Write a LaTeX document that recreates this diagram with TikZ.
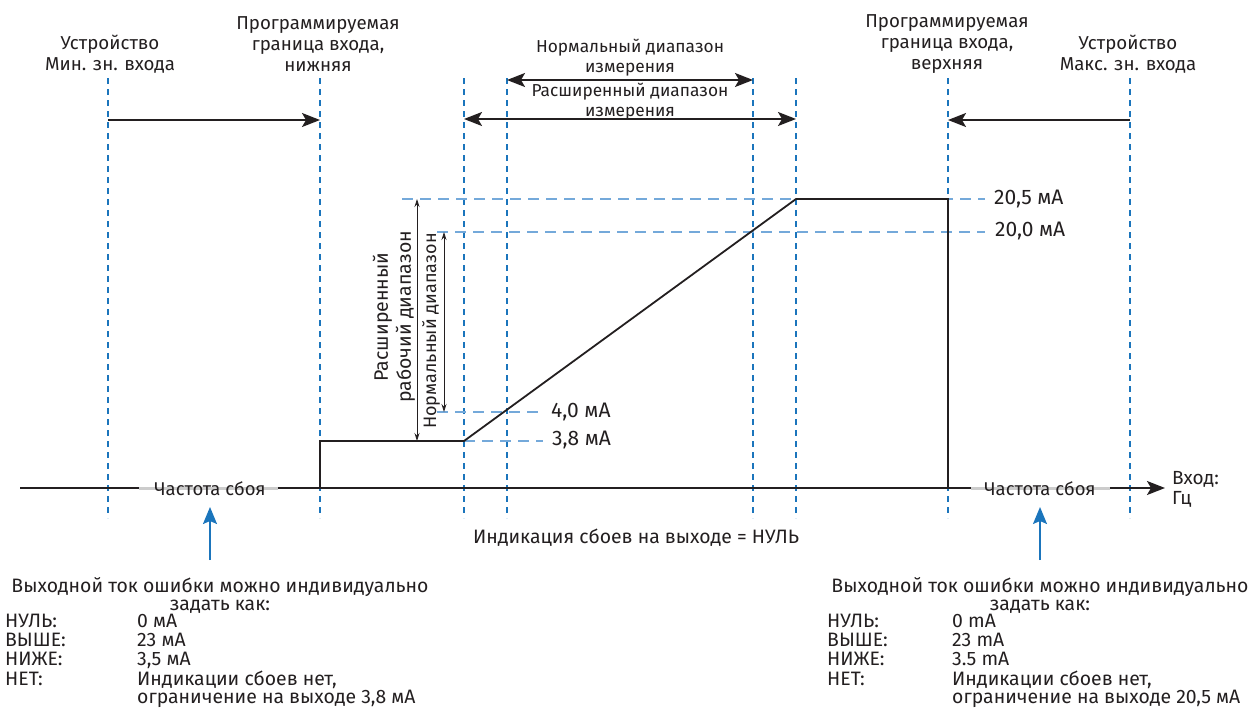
\documentclass[tikz,border=0pt]{standalone}
\usepackage{fontspec}
\setmainfont{Fira Sans}
\usetikzlibrary{arrows.meta}

\definecolor{guideblue}{HTML}{1B75BC}
\definecolor{levelblue}{HTML}{74A9DA}
\definecolor{faultgray}{HTML}{CCCCCC}
\definecolor{inkblack}{HTML}{231F20}

\tikzset{
  guideline/.style={guideblue, line width=1.3pt, dash pattern=on 6pt off 5pt},
  levelline/.style={levelblue, line width=1.6pt, dash pattern=on 11pt off 7pt},
  signal/.style={inkblack, line width=1.8pt},
  rangearrow/.style={inkblack, line width=1.8pt, -{Stealth[length=18pt,width=14pt,inset=4pt]}},
  bothrange/.style={inkblack, line width=1.8pt, {Stealth[length=18pt,width=14pt,inset=4pt]}-{Stealth[length=18pt,width=14pt,inset=4pt]}},
  thinrange/.style={inkblack, line width=0.8pt, {Stealth[length=8pt,width=5pt]}-{Stealth[length=8pt,width=5pt]}},
  pointer/.style={guideblue, line width=1.6pt, -{Stealth[length=17pt,width=14pt,inset=3pt]}},
  toplabel/.style={font=\fontsize{18.7}{21}\selectfont, align=center, inner sep=0pt, inkblack},
  midlabel/.style={font=\fontsize{17.3}{20}\selectfont, align=center, inner sep=0pt, inkblack},
  txt/.style={font=\fontsize{19.4}{18}\selectfont, inner sep=0pt, inkblack},
  valtxt/.style={font=\fontsize{21}{22}\selectfont, inner sep=0pt, inkblack},
}

\begin{document}
\begin{tikzpicture}[x=1pt, y=-1pt]
  \useasboundingbox (0,0) rectangle (1253,718);

  %%% vertical guides
  \foreach \x in {108,320,464,507,753,796,948,1130}
    \draw[guideline] (\x,78) -- (\x,518);

  %%% current levels
  \coordinate (lvlA) at (402,199);  \coordinate (lvlAend) at (985,199);
  \coordinate (lvlB) at (437,232);  \coordinate (lvlBend) at (985,232);
  \coordinate (lvlC) at (437,412);  \coordinate (lvlCend) at (543,412);
  \coordinate (lvlD) at (464,441);  \coordinate (lvlDend) at (543,441);
  \draw[levelline] (lvlA) -- (lvlAend);
  \draw[levelline] (lvlB) -- (lvlBend);
  \draw[levelline] (lvlC) -- (lvlCend);
  \draw[levelline] (lvlD) -- (lvlDend);

  \node[valtxt, anchor=west] (l205) at (994,199) {20,5 мА};
  \node[valtxt, anchor=west] (l200) at (995,231) {20,0 мА};
  \node[valtxt, anchor=west] (l40) at (551,412) {4,0 мА};
  \node[valtxt, anchor=west] (l38) at (552,440) {3,8 мА};

  %%% input axis
  \coordinate (ax0) at (20,488);
  \coordinate (ax1) at (139,488);
  \coordinate (ax2) at (278,488);
  \coordinate (ax3) at (971,488);
  \coordinate (ax4) at (1110,488);
  \coordinate (ax5) at (1165,488);
  \draw[signal] (ax0) -- (ax1);
  \draw[faultgray, line width=3pt] (ax1) -- (ax2);
  \draw[signal] (ax2) -- (ax3);
  \draw[faultgray, line width=3pt] (ax3) -- (ax4);
  \draw[rangearrow] (ax4) -- (ax5);
  \node[txt, font=\fontsize{18.5}{18}\selectfont] (failL) at (210,489) {Частота сбоя};
  \node[txt, font=\fontsize{18.5}{18}\selectfont] (failR) at (1040,489) {Частота сбоя};
  \node[txt, align=left, anchor=west, font=\fontsize{19}{20}\selectfont] (input) at (1172,489) {Вход:\\Гц};

  %%% output signal
  \coordinate (s0) at (320,488);
  \coordinate (s1) at (320,441);
  \coordinate (s2) at (464,441);
  \coordinate (s3) at (796,199);
  \coordinate (s4) at (948,199);
  \coordinate (s5) at (948,488);
  \draw[signal, line join=miter] (s0) -- (s1) -- (s2) -- (s3) -- (s4) -- (s5);

  %%% ranges on the current axis
  \coordinate (extTop) at (417,199);  \coordinate (extBot) at (417,441);
  \coordinate (nrmTop) at (444,232);  \coordinate (nrmBot) at (444,412);
  \draw[thinrange] (extTop) -- (extBot);
  \draw[thinrange] (nrmTop) -- (nrmBot);
  \node[toplabel, rotate=90, font=\fontsize{19.5}{23}\selectfont] (extLbl) at (394,317) {Расширенный\\рабочий диапазон};
  \node[txt, rotate=90, font=\fontsize{18}{18}\selectfont] (nrmLbl) at (431,331) {Нормальный диапазон};

  %%% ranges on the input axis
  \coordinate (minDev) at (108,120);  \coordinate (minProg) at (320,120);
  \coordinate (maxDev) at (1130,120); \coordinate (maxProg) at (948,120);
  \draw[rangearrow] (minDev) -- (minProg);
  \draw[rangearrow] (maxDev) -- (maxProg);
  \coordinate (nrmL) at (507,80);  \coordinate (nrmR) at (753,80);
  \coordinate (extL) at (464,119); \coordinate (extR) at (796,119);
  \draw[bothrange] (nrmL) -- (nrmR);
  \draw[bothrange] (extL) -- (extR);
  \node[midlabel] (nrmIn) at (630,58) {Нормальный диапазон\\измерения};
  \node[midlabel] (extIn) at (630,102) {Расширенный диапазон\\измерения};

  %%% top labels
  \node[toplabel] (devMin) at (110,54) {Устройство\\Мин. зн. входа};
  \node[toplabel] (progLo) at (318,44) {Программируемая\\граница входа,\\нижняя};
  \node[toplabel] (progHi) at (947,44) {Программируемая\\граница входа,\\верхняя};
  \node[toplabel] (devMax) at (1128,54) {Устройство\\Макс. зн. входа};

  \node[txt] (nullOut) at (636,538) {Индикация сбоев на выходе = НУЛЬ};

  %%% failure current settings
  \coordinate (pL) at (210,560); \coordinate (pLtip) at (210,507);
  \coordinate (pR) at (1040,560); \coordinate (pRtip) at (1040,507);
  \draw[pointer] (pL) -- (pLtip);
  \draw[pointer] (pR) -- (pRtip);

  \node[txt, align=center] (setL) at (220,595) {Выходной ток ошибки можно индивидуально\\задать как:};
  \node[txt, anchor=north west] (listL) at (5,614) {%
    \begin{tabular}{@{}p{132pt}@{}l@{}}
      НУЛЬ: & 0 мА\\
      ВЫШЕ: & 23 мА\\
      НИЖЕ: & 3,5 мА\\
      НЕТ:  & Индикации сбоев нет,\\
            & ограничение на выходе 3,8 мА
    \end{tabular}};

  \node[txt, align=center] (setR) at (1040,595) {Выходной ток ошибки можно индивидуально\\задать как:};
  \node[txt, anchor=north west] (listR) at (827,614) {%
    \begin{tabular}{@{}p{125pt}@{}l@{}}
      НУЛЬ: & 0 mA\\
      ВЫШЕ: & 23 mA\\
      НИЖЕ: & 3.5 mA\\
      НЕТ:  & Индикации сбоев нет,\\
            & ограничение на выходе 20,5 мА
    \end{tabular}};

\end{tikzpicture}
\end{document}
